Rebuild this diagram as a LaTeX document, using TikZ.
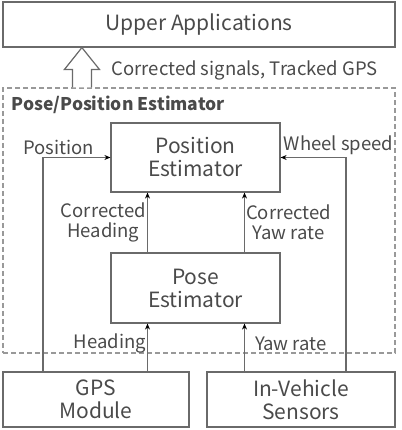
\documentclass[tikz,border=0pt]{standalone}
\usepackage{fontspec}
\setmainfont{Noto Sans CJK KR}
\usepackage{xcolor}
\usepackage{tikz}
\usetikzlibrary{arrows, arrows.meta, positioning, calc}
\definecolor{txtgray}{HTML}{4A4A4A}
\definecolor{linegray}{HTML}{6A6A6A}
\tikzstyle{block} = [rectangle, draw=linegray, line width=1.2pt, text=txtgray, align=center, font=\fontsize{21}{23}\selectfont, inner sep=0pt]
\tikzstyle{lbl} = [text=txtgray, align=center, font=\fontsize{18.5}{20}\selectfont, inner sep=1pt]
\tikzstyle{arrow} = [draw=linegray, line width=1.2pt, -{Stealth[length=6pt,width=5pt,black]}]

\begin{document}
\begin{tikzpicture}[x=1pt, y=1pt]
  \useasboundingbox (0,0) rectangle (401,430);
  \node (upper) [block, minimum width=392pt, minimum height=45pt] at (199,405.5) {Upper Applications};
  \node (ppe) [draw=gray!80, dash pattern=on 5pt off 3pt, line width=1.1pt, minimum width=392pt, minimum height=265pt] at (199,209.5) {};
  \node (posest) [block, minimum width=169pt, minimum height=69pt] at (195.5,272.5) {Position\\Estimator};
  \node (poseest) [block, minimum width=169pt, minimum height=70pt] at (195.5,142) {Pose\\Estimator};
  \node (gps) [block, minimum width=186pt, minimum height=55pt] at (96,30.5) {GPS\\Module};
  \node (sensors) [block, minimum width=188pt, minimum height=55pt] at (301,30.5) {In-Vehicle\\Sensors};

  % title and output arrow
  \node (ppetitle) [lbl, font=\fontsize{17.5}{20}\selectfont\bfseries, anchor=north west] at ($(ppe.north west)+(8,-7)$) {Pose/Position Estimator};
  \draw[draw=linegray, line width=1.2pt, fill=white] ($(ppe.north west)+(70,0)$) -- ++(0,18) -- ++(-8,0) -- ($(upper.south west)+(79.5,0)$) -- ($(ppe.north west)+(97,18)$) -- ++(-8,0) -- ++(0,-18);
  \node (outlbl) [lbl, anchor=west] at ($(ppe.north west)+(108,17)$) {Corrected signals, Tracked GPS};

  % inputs
  \coordinate (hd) at ([xshift=-48pt]poseest.south);
  \coordinate (yr) at ([xshift=49pt]poseest.south);
  \draw[arrow] ([xshift=-53pt]gps.north) |- (posest.west);
  \draw[arrow] ([xshift=45pt]sensors.north) |- (posest.east);
  \draw[arrow] (hd |- gps.north) -- (hd) node[lbl, midway, left, yshift=4pt] {Heading};
  \draw[arrow] (yr |- sensors.north) -- (yr) node[lbl, midway, right, xshift=9pt, yshift=4pt] {Yaw rate};
  \draw[arrow] ([xshift=-48pt]poseest.north) -- ([xshift=-48pt]posest.south) node[lbl, midway, left] {Corrected\\Heading};
  \draw[arrow] ([xshift=49pt]poseest.north) -- ([xshift=49pt]posest.south) node[lbl, midway, right] {Corrected\\Yaw rate};
  \node (poslbl) [lbl, anchor=south east] at ($(posest.west)+(-15,2)$) {Position};
  \node (wslbl) [lbl, anchor=south west] at ($(posest.east)+(2,2)$) {Wheel speed};
\end{tikzpicture}
\end{document}
